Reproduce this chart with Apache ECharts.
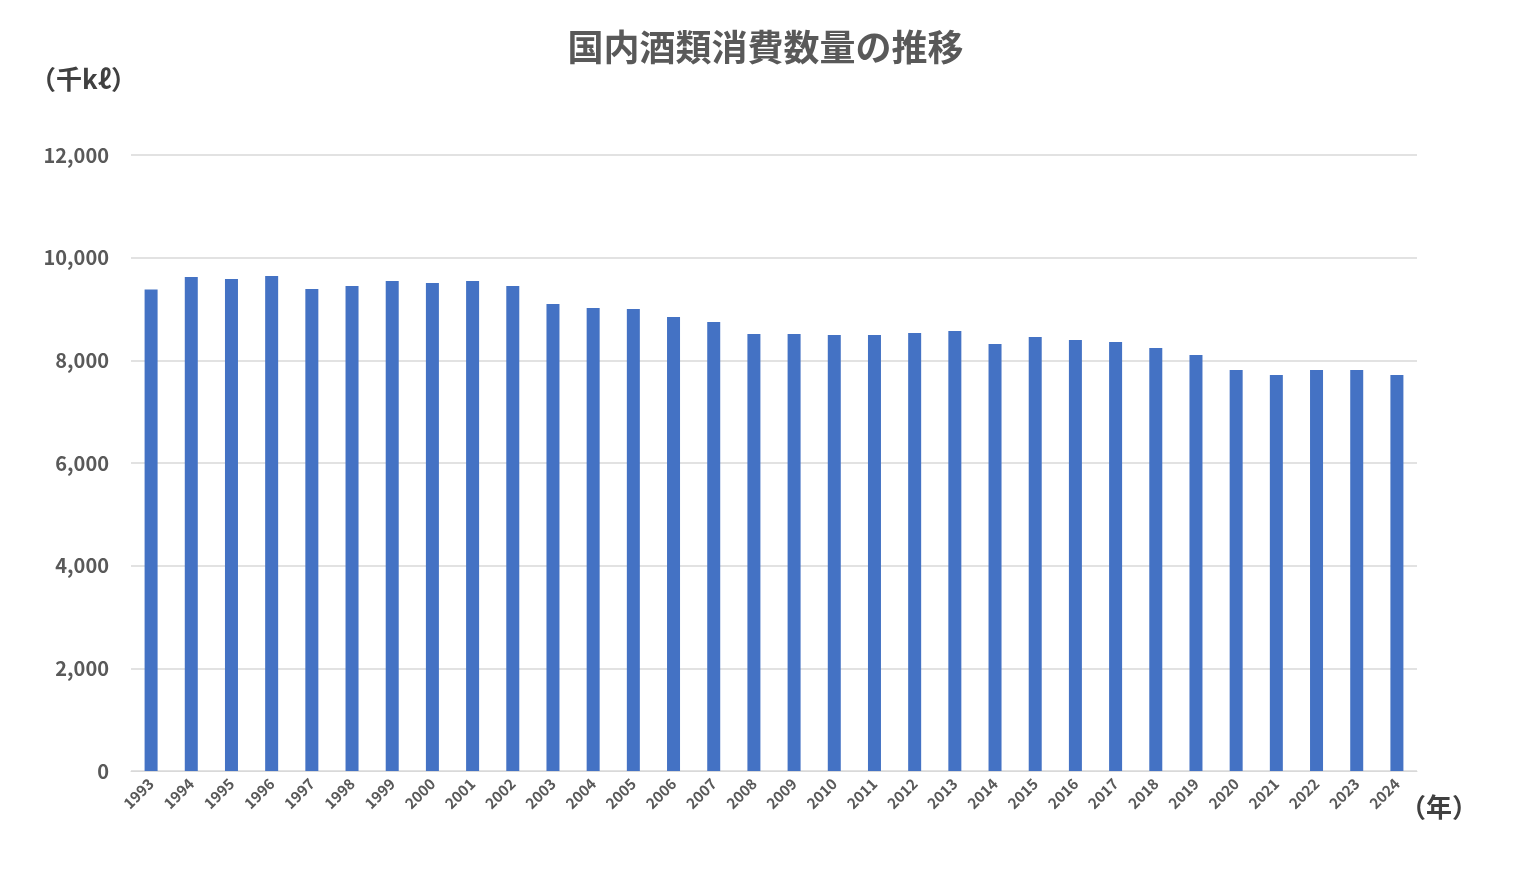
<!DOCTYPE html>
<html><head><meta charset="utf-8">
<script src="https://cdn.jsdelivr.net/npm/echarts@6/dist/echarts.min.js"></script>
<style>html,body{margin:0;padding:0;background:#fff}#c{width:1531px;height:881px}</style>
</head><body><div id="c"></div>
<script>
const years = ['1993','1994','1995','1996','1997','1998','1999','2000','2001','2002','2003','2004','2005','2006','2007','2008','2009','2010','2011','2012','2013','2014','2015','2016','2017','2018','2019','2020','2021','2022','2023','2024'];
const volumes = [9380,9624,9585,9643,9390,9449,9546,9507,9546,9449,9098,9020,9000,8845,8747,8513,8513,8494,8494,8533,8572,8318,8455,8396,8357,8240,8104,7812,7715,7812,7812,7715];
const yTicks = [0,2000,4000,6000,8000,10000,12000];
const chart = echarts.init(document.getElementById('c'));
const font = '"Noto Sans CJK JP","Noto Sans",sans-serif';
chart.setOption({
  animation:false,
  title:{text:'国内酒類消費数量の推移',left:'center',top:24,textStyle:{fontSize:36,fontWeight:'bold',color:'#595959',fontFamily:font}},
  graphic:[
    {type:'text',left:30,top:66,style:{text:'（千kℓ）',fontSize:26,fontWeight:'bold',fill:'#404040',fontFamily:font}},
    {type:'text',left:1400,top:794,style:{text:'（年）',fontSize:26,fontWeight:'bold',fill:'#404040',fontFamily:font}}
  ],
  grid:{left:131,right:114,top:155,bottom:110},
  xAxis:{type:'category',data:years,axisTick:{show:false},axisLine:{lineStyle:{color:'#d9d9d9'}},
    axisLabel:{rotate:45,interval:0,fontSize:15,fontWeight:'bold',color:'#595959',fontFamily:font,margin:10}},
  yAxis:{type:'value',min:0,max:yTicks[yTicks.length-1],interval:2000,
    axisLabel:{fontSize:20,fontWeight:'bold',color:'#595959',fontFamily:font,margin:22,formatter:v=>v.toLocaleString('en-US')},
    splitLine:{lineStyle:{color:'#d9d9d9',width:1.5}}},
  series:[{type:'bar',data:volumes,barWidth:13,itemStyle:{color:'#4472c4'}}]
});
</script></body></html>
